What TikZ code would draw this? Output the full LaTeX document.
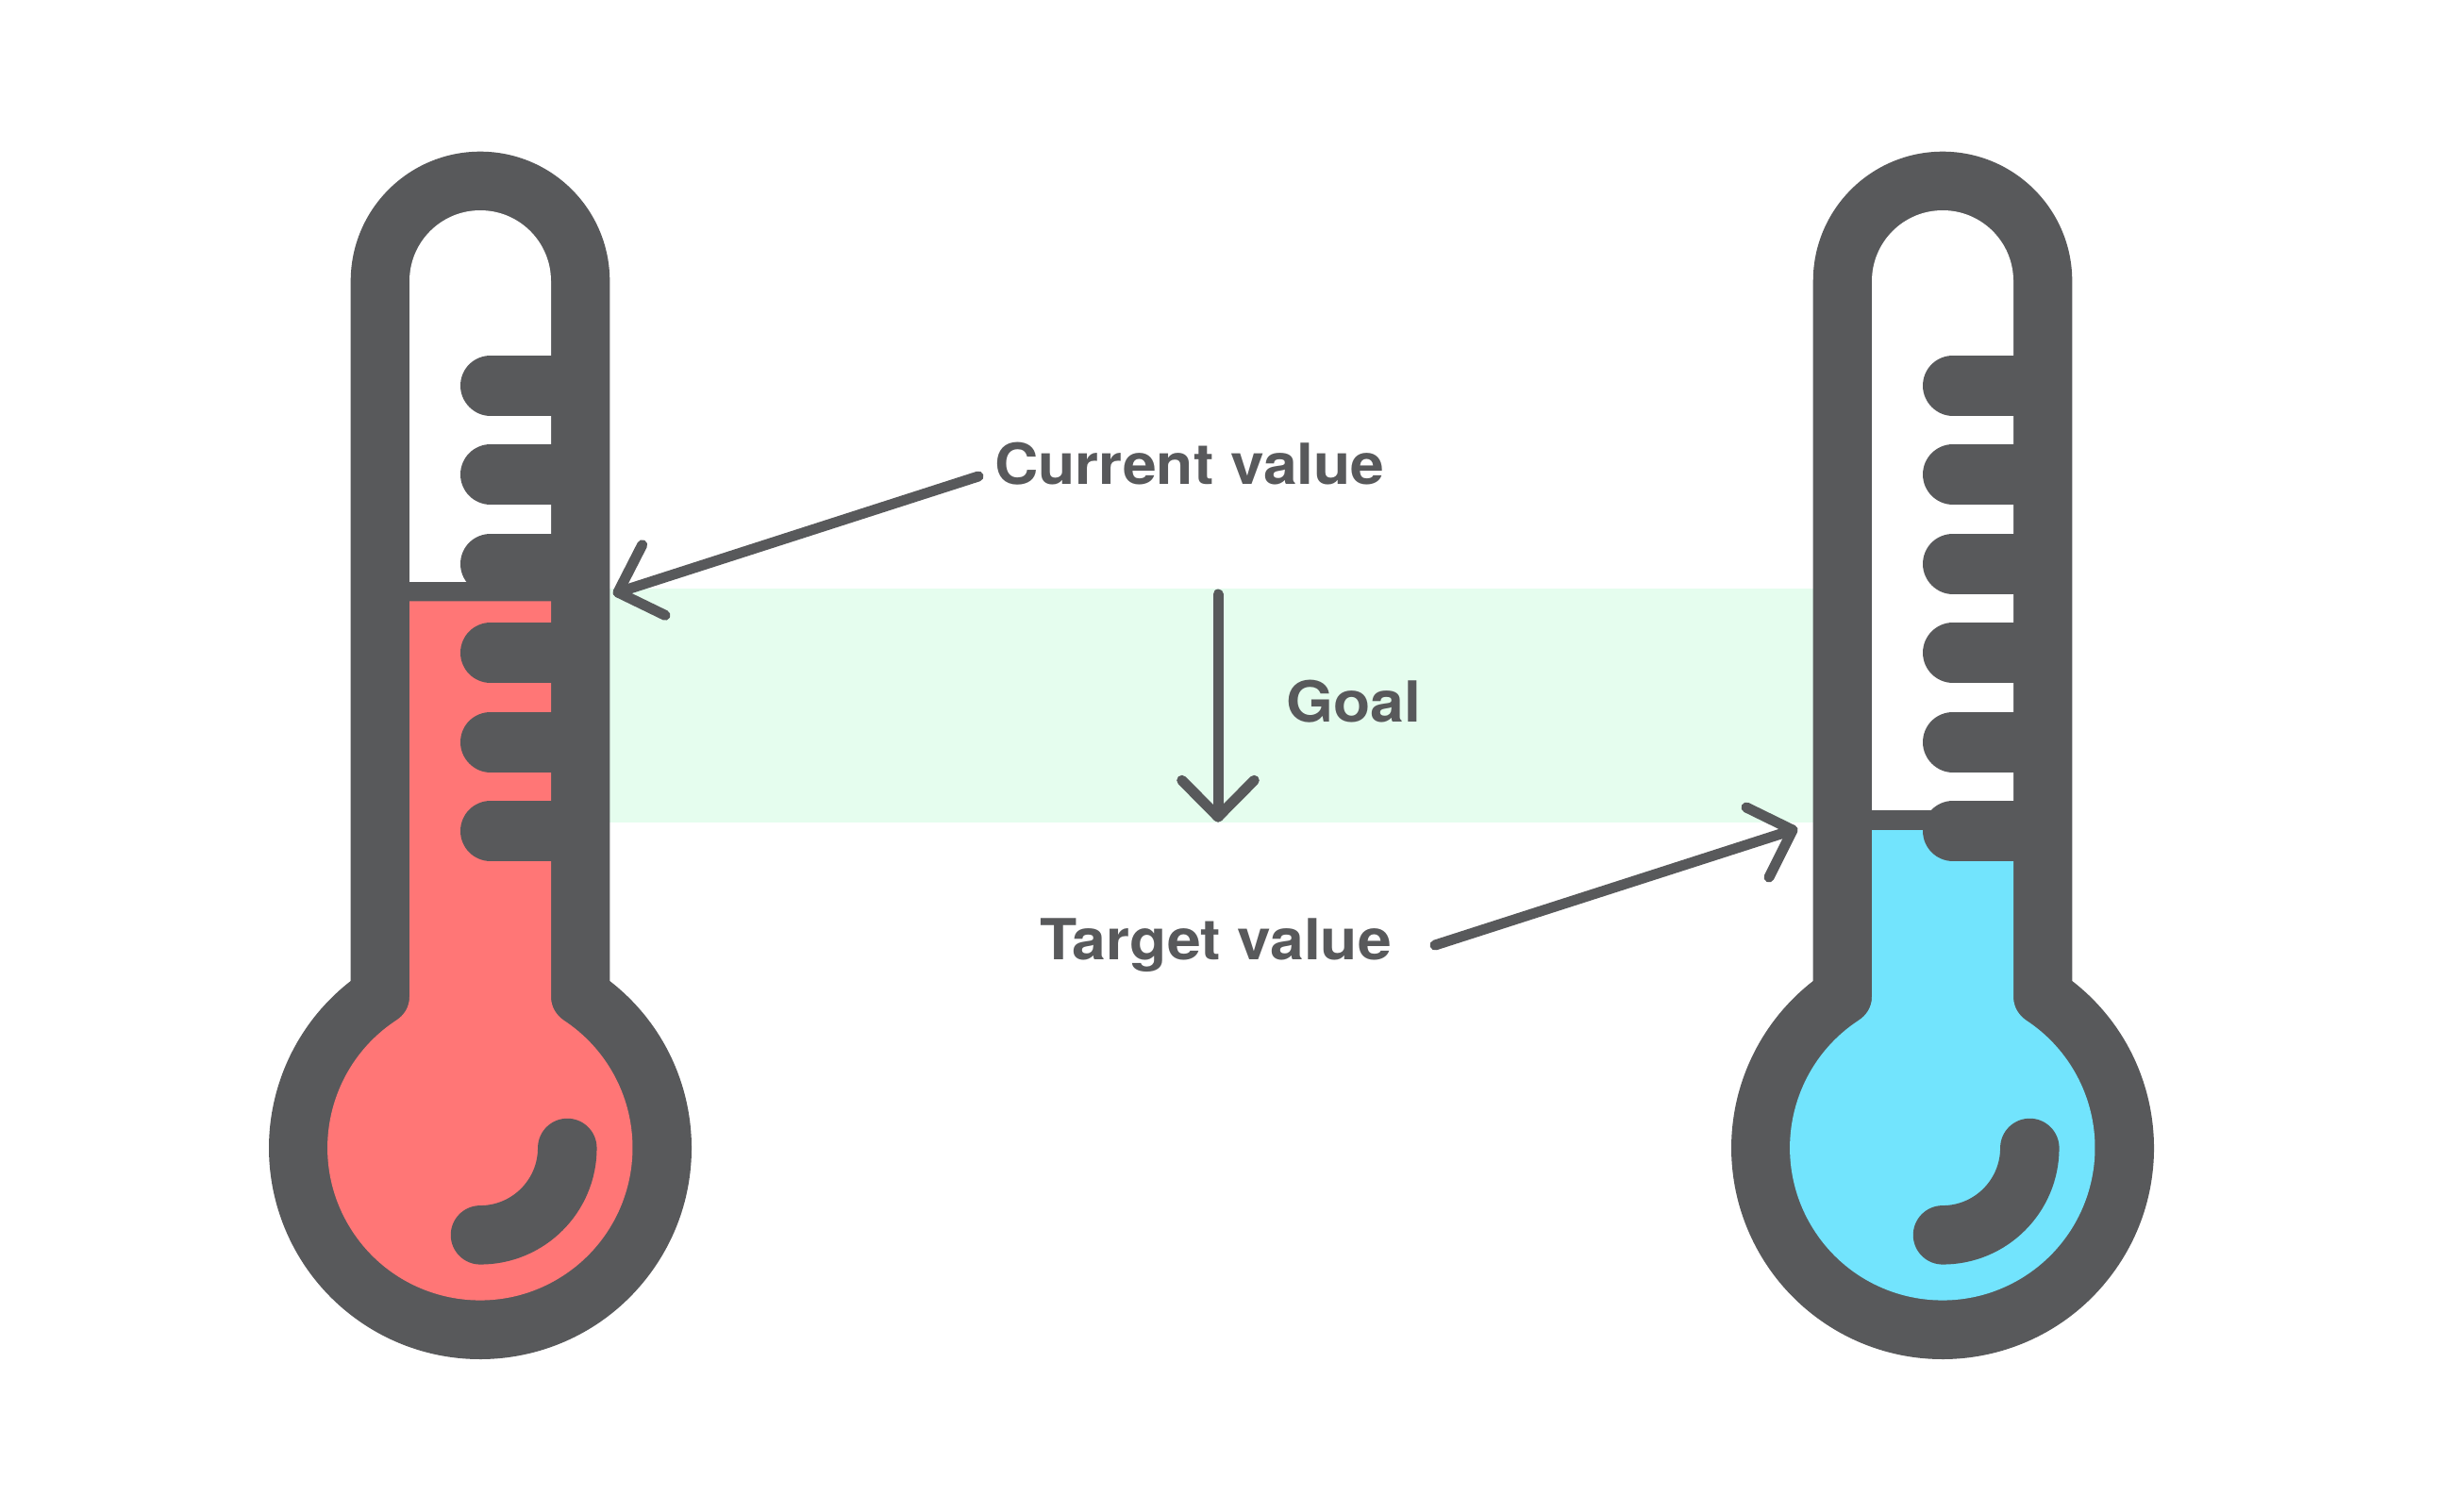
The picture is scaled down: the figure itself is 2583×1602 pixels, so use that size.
\documentclass[tikz,border=0pt]{standalone}
\usepackage{fontspec}
\setmainfont{TeX Gyre Heros}[FakeStretch=1.07]
\definecolor{ink}{HTML}{58595B}
\definecolor{hot}{HTML}{FF7676}
\definecolor{cold}{HTML}{72E4FD}
\definecolor{goalbg}{HTML}{E5FDEE}
\tikzset{
  tick/.style={draw=ink,line width=32pt,line cap=round},
  glint/.style={draw=ink,line width=31.25pt,line cap=round},
  pointer/.style={draw=ink,line width=5.5pt,line cap=round,line join=round},
  lbl/.style={text=ink,font=\fontsize{30}{36}\selectfont\bfseries,inner sep=0pt,anchor=base west}
}
\newcommand{\thermo}[4]{%
  \begin{scope}[xshift=#1]
    \fill[ink] (371.7,1040) -- (371.7,298) arc[start angle=180,end angle=360,radius=137.3]
      -- (646.3,1040) arc[start angle=-52.2,end angle=232.2,radius=224] -- cycle;
    \fill[white] (434,#3) -- (434,298) arc[start angle=180,end angle=360,radius=75] -- (584,#3) -- cycle;
    \fill[#2] (434,#4) -- (434,1056.7) .. controls (434,1068) and (428,1076.5) .. (420,1081.7)
      arc[start angle=236.7,end angle=-56.7,radius=161.7]
      .. controls (590,1076.5) and (584,1068) .. (584,1056.7) -- (584,#4) -- cycle;
    \foreach \ty in {408.5,503,597.5,692,786.5,881}{
      \draw[tick] (520,\ty) -- (600,\ty);
    }
    \fill[ink] (434,#3) rectangle (584,#4);
    \draw[glint] (601.3,1217) arc[start angle=0,end angle=90,radius=92.3];
  \end{scope}
}
\begin{document}
\begin{tikzpicture}[x=0.5pt,y=-0.5pt]
  \useasboundingbox (0,0) rectangle (2583,1602);
  \fill[white] (0,0) rectangle (2583,1602);
  \fill[goalbg] (640,624) rectangle (1930,871.7);
  \thermo{0pt}{hot}{617}{637.3}
  \thermo{775pt}{cold}{859.3}{880}

  \node[lbl] (current) at (1054,513) {Current value};
  \node[lbl] (goal) at (1363,765.7) {Goal};
  \node[lbl] (target) at (1101.7,1017.7) {Target value};

  \coordinate (curtail) at (1037,505);
  \coordinate (curtip) at (655,628);
  \coordinate (cura) at (680.7,577.7);
  \coordinate (curb) at (705,652.3);
  \draw[pointer] (curtail) -- (curtip);
  \draw[pointer] (cura) -- (curtip) -- (curb);

  \coordinate (goaltail) at (1291,630);
  \coordinate (goaltip) at (1291,866);
  \coordinate (goala) at (1252.7,827.3);
  \coordinate (goalb) at (1329.3,827.3);
  \draw[pointer] (goaltail) -- (goaltip);
  \draw[pointer] (goala) -- (goaltip) -- (goalb);

  \coordinate (tartail) at (1521,1002);
  \coordinate (tartip) at (1900,880);
  \coordinate (tara) at (1851,856);
  \coordinate (tarb) at (1875,930);
  \draw[pointer] (tartail) -- (tartip);
  \draw[pointer] (tara) -- (tartip) -- (tarb);
\end{tikzpicture}
\end{document}
